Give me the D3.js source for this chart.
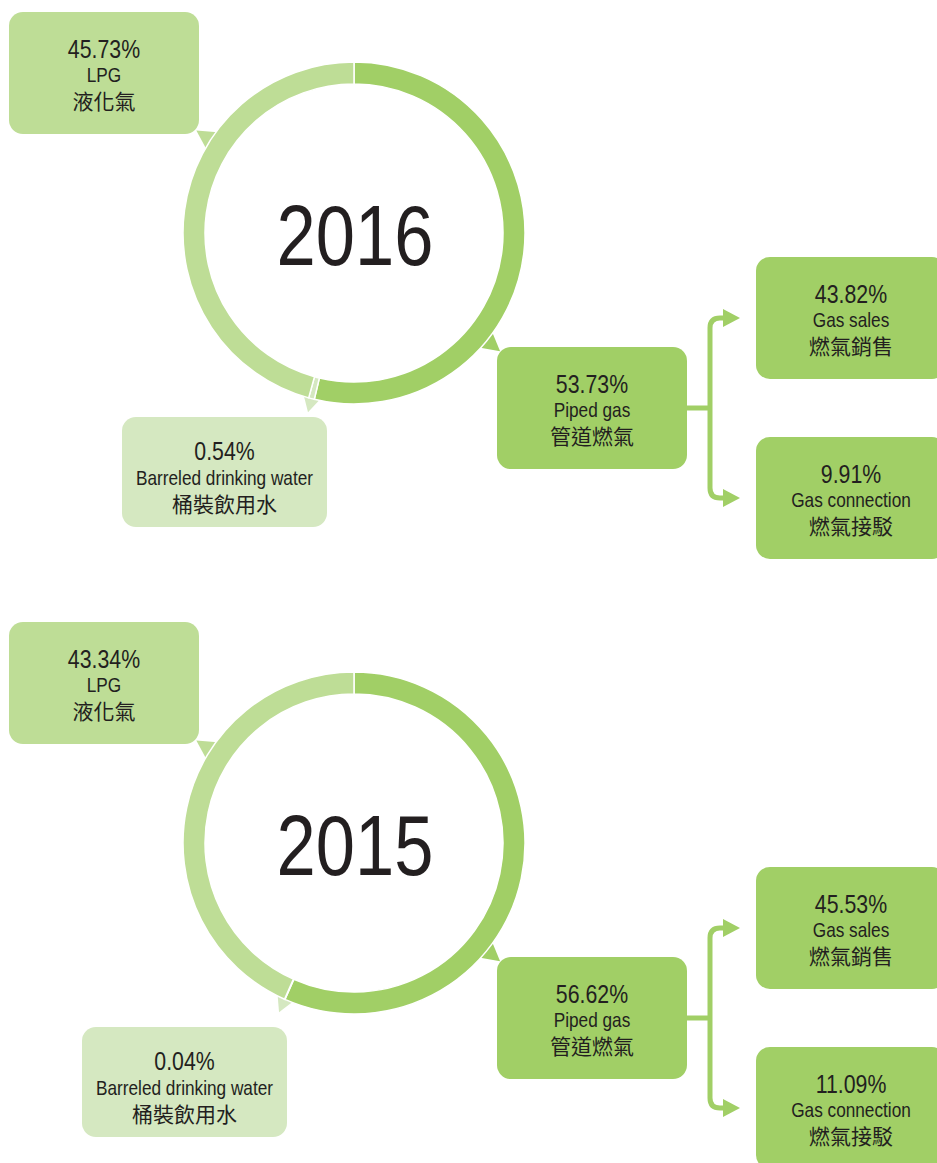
<!DOCTYPE html>
<html>
<head>
<meta charset="utf-8">
<script src="https://cdn.jsdelivr.net/npm/d3@7"></script>
<style>
  html, body { margin: 0; padding: 0; background: #fff; }
  svg { display: block; }
</style>
</head>
<body>
<div id="chart"></div>
<script>
// data
const years = ["2016", "2015"];
const segmentKeys = ["piped", "water", "lpg"];
const pipedShare = [53.73, 56.62];
const waterShare = [0.54, 0.04];
const lpgShare = [45.73, 43.34];
const gasSalesShare = [43.82, 45.53];
const gasConnectionShare = [9.91, 11.09];
const labelsEn = {piped: "Piped gas", water: "Barreled drinking water", lpg: "LPG",
    sales: "Gas sales", connection: "Gas connection"};
const labelsZh = {piped: "管道燃氣", water: "桶裝飲用水", lpg: "液化氣",
    sales: "燃氣銷售", connection: "燃氣接駁"};

// set the dimensions of the page
const width = 937, height = 1163;
const panelOffset = 610;
const R = 171, ringWidth = 22;

const colors = {piped: "#a1cf66", water: "#d5e8c1", lpg: "#bedd96"};
const textColor = "#231f20";
const latin = "'Liberation Sans', Arial, sans-serif";
const cjk = "'Noto Sans CJK TC', 'Noto Sans CJK SC', sans-serif";
// no narrow face installed, so squeeze the sans horizontally
const narrow = 0.82;

const svg = d3.select("#chart")
    .append("svg")
    .attr("width", width)
    .attr("height", height);

const pie = d3.pie().sort(null).value(d => d.value);
const arc = d3.arc().innerRadius(R - ringWidth).outerRadius(R);

// tail triangle pointing out of the ring at a given angle (radians, clockwise from top)
function tail(a, half, rBase, rTip) {
    const p = (ang, r) => [r * Math.sin(ang), -r * Math.cos(ang)];
    return [p(a - half, rBase), p(a, rTip), p(a + half, rBase)];
}

function narrowText(g, x, y, size, str) {
    return g.append("text")
        .attr("transform", `translate(${x},${y}) scale(${narrow},1)`)
        .attr("text-anchor", "middle")
        .attr("font-family", latin).attr("font-size", size)
        .attr("fill", textColor)
        .text(str);
}

function box(g, x, y, w, h, fill, pct, en, zh, offs) {
    const b = g.append("g").attr("transform", `translate(${x},${y})`);
    b.append("rect")
        .attr("width", w).attr("height", h)
        .attr("rx", 14).attr("ry", 14)
        .attr("fill", fill);
    narrowText(b, w / 2, offs[0], 26, pct.toFixed(2) + "%");
    narrowText(b, w / 2, offs[1], 21, en);
    b.append("text")
        .attr("x", w / 2).attr("y", offs[2])
        .attr("text-anchor", "middle")
        .attr("font-family", cjk).attr("font-size", 21)
        .attr("fill", textColor)
        .text(zh);
}

const tallOffs = [46, 70, 97];
const shortOffs = [43, 68, 95];
const waterBoxX = [122, 82];

years.forEach((year, i) => {
    const dy = i * panelOffset;
    const g = svg.append("g").attr("transform", `translate(0,${dy})`);
    const cx = 354, cy = 233;

    const slices = pie([
        {key: "piped", value: pipedShare[i]},
        {key: "water", value: waterShare[i]},
        {key: "lpg", value: lpgShare[i]}
    ]);
    const byKey = {};
    slices.forEach(s => byKey[s.data.key] = s);

    // tails behind the ring
    const ring = g.append("g").attr("transform", `translate(${cx},${cy})`);
    const deg = Math.PI / 180;
    const waterMid = (byKey.water.startAngle + byKey.water.endAngle) / 2;
    const tails = [
        {key: "lpg", pts: tail(303 * deg, 4 * deg, R - 4, R + 17)},
        {key: "piped", pts: tail(129 * deg, 4 * deg, R - 4, R + 17)},
        {key: "water", pts: tail(waterMid, 3 * deg, R - 2, R + 14)}
    ];
    ring.selectAll("path.tail")
        .data(tails)
        .join("path")
        .attr("class", "tail")
        .attr("d", d => "M" + d.pts.map(p => p.join(",")).join("L") + "Z")
        .attr("fill", d => colors[d.key]);

    // ring segments
    ring.selectAll("path.seg")
        .data(slices)
        .join("path")
        .attr("class", "seg")
        .attr("d", arc)
        .attr("fill", d => colors[d.data.key])
        .attr("stroke", "#fff")
        .attr("stroke-width", 1.5);

    narrowText(ring, 1, 32, 86, year);

    // connector from piped gas to its two parts
    const conn = g.append("g")
        .attr("fill", "none")
        .attr("stroke", colors.piped)
        .attr("stroke-width", 5);
    const vx = 710, yTop = 318, yBot = 498, r = 10;
    conn.append("path").attr("d", `M687,408H${vx}`);
    conn.append("path")
        .attr("d", `M724,${yTop}H${vx + r}Q${vx},${yTop} ${vx},${yTop + r}V${yBot - r}Q${vx},${yBot} ${vx + r},${yBot}H724`);
    g.selectAll("path.head")
        .data([yTop, yBot])
        .join("path")
        .attr("class", "head")
        .attr("d", y => `M723,${y - 9}L740,${y}L723,${y + 9}Z`)
        .attr("fill", colors.piped);

    // labels
    box(g, 9, 12, 190, 122, colors.lpg, lpgShare[i], labelsEn.lpg, labelsZh.lpg, tallOffs);
    box(g, waterBoxX[i], 417, 205, 110, colors.water, waterShare[i], labelsEn.water, labelsZh.water, shortOffs);
    box(g, 497, 347, 190, 122, colors.piped, pipedShare[i], labelsEn.piped, labelsZh.piped, tallOffs);
    box(g, 756, 257, 190, 122, colors.piped, gasSalesShare[i], labelsEn.sales, labelsZh.sales, tallOffs);
    box(g, 756, 437, 190, 122, colors.piped, gasConnectionShare[i], labelsEn.connection, labelsZh.connection, tallOffs);
});
</script>
</body>
</html>
